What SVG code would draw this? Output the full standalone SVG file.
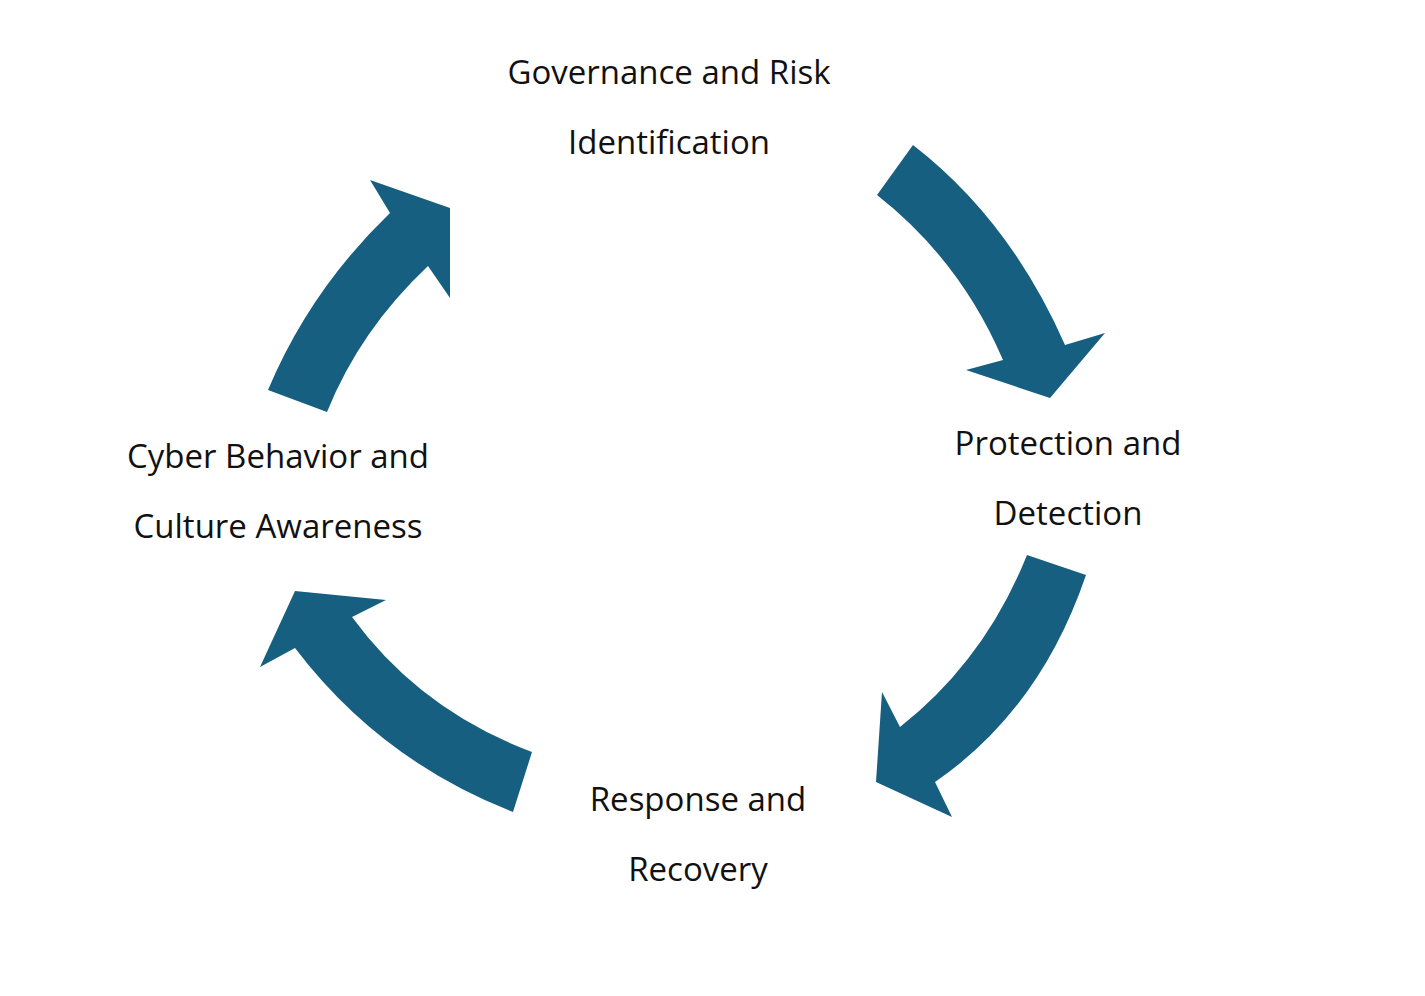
<svg xmlns="http://www.w3.org/2000/svg" width="1425" height="996" viewBox="0 0 1425 996">
<style>
.a{fill:#175F80}
.t{font-family:"Open Sans","Liberation Sans",sans-serif;font-size:33px;fill:#111;text-anchor:middle}
</style>
<rect width="1425" height="996" fill="#fff"/>
<g id="connectors">
<path class="a" d="M913,145 Q1010,220 1065,345 L1105,333 L1050,398 L966,370 L1003,360 Q960,260 877,195 Z"/>
<path class="a" d="M1027,555 Q985,660 900,727 L882,692 L876,782 L952,817 L935,782 Q1040,710 1086,575 Z"/>
<path class="a" d="M532,752 Q420,710 352,617 L386,600 L295,591 L260,667 L295,648 Q380,760 513,812 Z"/>
<path class="a" d="M268,390 Q310,290 390,213 L370,180 L450,208 L450,298 L428,266 Q360,330 327,412 Z"/>
</g>
<g id="governance"><text class="t" x="669" y="84">Governance and Risk</text><text class="t" x="669" y="154">Identification</text></g>
<g id="protection"><text class="t" x="1068" y="455">Protection and</text><text class="t" x="1068" y="525">Detection</text></g>
<g id="response"><text class="t" x="698" y="811">Response and</text><text class="t" x="698" y="881">Recovery</text></g>
<g id="culture"><text class="t" x="278" y="468">Cyber Behavior and</text><text class="t" x="278" y="538">Culture Awareness</text></g>
</svg>
